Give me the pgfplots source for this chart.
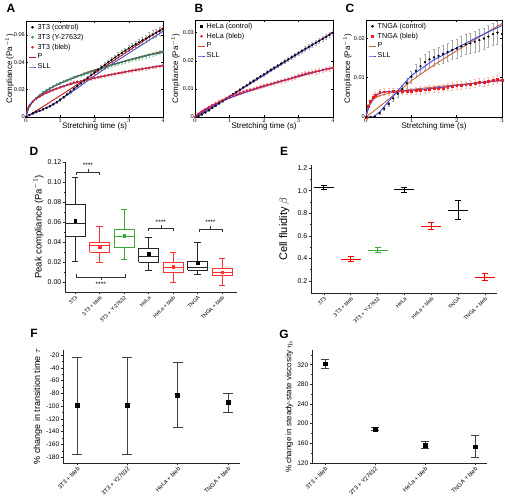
\documentclass[border=0pt]{standalone}
\usepackage{pgfplots}
\pgfplotsset{compat=1.18}
\usepackage{fontspec}
\setmainfont{Liberation Sans}
\definecolor{Pa}{HTML}{C0141E}
\definecolor{Sa}{HTML}{4B47C8}
\definecolor{Pb}{HTML}{F03C28}
\definecolor{Sb}{HTML}{3C3CF0}
\definecolor{Pc}{HTML}{C8643C}
\definecolor{Sc}{HTML}{3C46F0}
\definecolor{gr}{HTML}{2E9B3A}
\definecolor{rd}{HTML}{EE1C1C}
\definecolor{bred}{HTML}{FF3030}
\definecolor{bgreen}{HTML}{38A838}
\newcommand{\fs}[1]{\fontsize{#1}{#1}\selectfont}
\pgfplotsset{
  mat/.style={scale only axis, xmin=0, ymin=0, tick align=inside, major tick length=2pt,
    scaled ticks=false,
    every tick/.style={black, line width=0.4pt}, axis line style={line width=0.5pt},
    ticklabel style={font=\fs{5.6}, inner sep=1pt},
    xlabel={Stretching time (s)}, ylabel={Compliance (Pa$^{-1}$)},
    label style={font=\fs{8}},
    xlabel style={inner sep=0pt, yshift=1pt},
    ylabel style={inner sep=0pt, yshift=-1pt},
    legend style={at={(0.01,0.985)}, anchor=north west, draw=none, fill=none, font=\fs{7.2}, inner sep=0.5pt, row sep=1.7pt, nodes={inner sep=0.8pt}},
    legend cell align=left,
    legend image code/.code={\draw[mark repeat=2,mark phase=2,#1] plot coordinates {(0cm,0cm) (0.14cm,0cm) (0.28cm,0cm)};},
  },
  dat/.style={mark=*, mark size=0.85pt, line width=0.5pt, forget plot},
  fit/.style={line width=0.9pt, forget plot},
  errg/.style={error bars/.cd, y dir=both, y explicit, error bar style={#1, line width=0.3pt}, error mark options={#1, rotate=90, mark size=1pt, line width=0.3pt}},
  org/.style={scale only axis, axis x line*=bottom, axis y line*=left, tick align=outside,
    scaled ticks=false,
    major tick length=2.5pt, minor tick length=1.5pt,
    every tick/.style={black!85, line width=0.5pt}, axis line style={black!85, line width=0.6pt},
    yticklabel style={font=\fs{7}, inner sep=1pt},
    label style={font=\fs{9.5}},
    ylabel style={inner sep=0pt},
    xtick={0,...,6},
    xticklabel style={rotate=45, anchor=north east, font=\fs{5.3}, inner sep=0.5pt},
    clip=false},
  bx/.style={line width=0.6pt, unbounded coords=jump},
}
\begin{document}
\begin{tikzpicture}
\useasboundingbox (0,0) rectangle (505pt,497pt);
% ---------------- A ----------------
\begin{axis}[mat, at={(26pt,380pt)}, anchor=south west, width=137pt, height=96pt,
  xmax=4, ymax=0.07, xtick={0,1,2,3,4}, ytick={0,0.02,0.04,0.06}, yticklabels={0,0.02,0.04,0.06}]
\addlegendimage{only marks, mark=*, mark size=1.1pt, black}\addlegendentry{3T3 (control)}
\addlegendimage{only marks, mark=*, mark size=1.1pt, gr}\addlegendentry{3T3 (Y-27632)}
\addlegendimage{only marks, mark=*, mark size=1.1pt, rd}\addlegendentry{3T3 (bleb)}
\addlegendimage{Pa, line width=0.9pt}\addlegendentry{P}
\addlegendimage{Sa, line width=0.9pt}\addlegendentry{SLL}
\addplot[gr, dat, errg=gr!35] table[y error index=2] {
0 0 0
0.05 0.005 0.0003
0.1 0.0078 0.0004
0.2 0.0110 0.0005
0.3 0.0137 0.0005
0.4 0.0160 0.0006
0.5 0.0180 0.0006
0.6 0.0196 0.0007
0.7 0.0210 0.0007
0.8 0.0223 0.0007
0.9 0.0237 0.0008
1.0 0.0249 0.0008
1.1 0.0259 0.0008
1.2 0.0268 0.0008
1.3 0.0278 0.0009
1.4 0.0289 0.0009
1.5 0.0298 0.0009
1.6 0.0306 0.0009
1.7 0.0314 0.001
1.8 0.0323 0.001
1.9 0.0332 0.001
2.0 0.0340 0.001
2.1 0.0347 0.001
2.2 0.0354 0.001
2.3 0.0362 0.0011
2.4 0.0370 0.0011
2.5 0.0377 0.0011
2.6 0.0384 0.0011
2.7 0.0391 0.0011
2.8 0.0398 0.0012
2.9 0.0405 0.0012
3.0 0.0412 0.0012
3.1 0.0419 0.0012
3.2 0.0425 0.0012
3.3 0.0431 0.0013
3.4 0.0438 0.0013
3.5 0.0444 0.0013
3.6 0.0451 0.0013
3.7 0.0458 0.0013
3.8 0.0464 0.0014
3.9 0.0470 0.0014
4.0 0.0476 0.0014
};
\addplot[rd, dat, errg=rd!30] table[y error index=2] {
0 0 0
0.05 0.0058 0.0003
0.1 0.0084 0.0004
0.2 0.0112 0.0004
0.3 0.0134 0.0005
0.4 0.0150 0.0005
0.5 0.0165 0.0005
0.6 0.0177 0.0006
0.7 0.0188 0.0006
0.8 0.0198 0.0006
0.9 0.0207 0.0006
1.0 0.0216 0.0007
1.1 0.0226 0.0007
1.2 0.0236 0.0007
1.3 0.0244 0.0007
1.4 0.0251 0.0007
1.5 0.0257 0.0008
1.6 0.0262 0.0008
1.7 0.0267 0.0008
1.8 0.0273 0.0008
1.9 0.0279 0.0008
2.0 0.0285 0.0008
2.1 0.0290 0.0008
2.2 0.0295 0.0009
2.3 0.0300 0.0009
2.4 0.0305 0.0009
2.5 0.0310 0.0009
2.6 0.0315 0.0009
2.7 0.0320 0.0009
2.8 0.0324 0.0009
2.9 0.0329 0.001
3.0 0.0334 0.001
3.1 0.0339 0.001
3.2 0.0343 0.001
3.3 0.0347 0.001
3.4 0.0351 0.001
3.5 0.0355 0.001
3.6 0.0359 0.001
3.7 0.0363 0.001
3.8 0.0367 0.001
3.9 0.0370 0.001
4.0 0.0373 0.001
};
\addplot[black, dat, errg=gray!70] table[y error index=2] {
0 0 0
0.1 0.0015 0.0003
0.2 0.0027 0.0004
0.3 0.0037 0.0004
0.4 0.0046 0.0005
0.5 0.0056 0.0005
0.6 0.0067 0.0006
0.7 0.0079 0.0006
0.8 0.0093 0.0007
0.9 0.0109 0.0008
1.0 0.0126 0.0008
1.1 0.0146 0.0009
1.2 0.0166 0.001
1.3 0.0186 0.001
1.4 0.0206 0.0011
1.5 0.0226 0.0011
1.6 0.0246 0.0012
1.7 0.0266 0.0012
1.8 0.0285 0.0013
1.9 0.0305 0.0013
2.0 0.0325 0.0014
2.1 0.0344 0.0014
2.2 0.0363 0.0015
2.3 0.0381 0.0016
2.4 0.0399 0.0016
2.5 0.0417 0.0017
2.6 0.0434 0.0018
2.7 0.0451 0.0019
2.8 0.0468 0.002
2.9 0.0484 0.0021
3.0 0.0500 0.0022
3.1 0.0515 0.0023
3.2 0.0530 0.0024
3.3 0.0545 0.0025
3.4 0.0559 0.0026
3.5 0.0573 0.0027
3.6 0.0587 0.0028
3.7 0.0601 0.0029
3.8 0.0614 0.003
3.9 0.0627 0.003
4.0 0.0640 0.003
};
\addplot[Pa, fit] coordinates {(0,0) (0.1,0.0015) (0.5,0.0076) (1,0.0156) (1.5,0.0237) (2,0.0319) (2.5,0.0401) (3,0.0484) (3.5,0.0566) (4,0.0650)};
\addplot[Pa, fit] coordinates {(0,0) (0.05,0.0058) (0.1,0.0081) (0.2,0.0114) (0.3,0.0138) (0.5,0.0176) (0.75,0.0214) (1,0.0246) (1.5,0.0299) (2,0.0343) (2.5,0.0382) (3,0.0417) (3.5,0.0449) (4,0.0479)};
\addplot[Pa, fit] coordinates {(0,0) (0.05,0.0065) (0.1,0.0086) (0.2,0.0113) (0.3,0.0133) (0.5,0.0163) (0.75,0.0192) (1,0.0215) (1.5,0.0253) (2,0.0284) (2.5,0.0310) (3,0.0334) (3.5,0.0355) (4,0.0375)};
\addplot[Sa, fit] coordinates {(0,0) (0.1,0.0012) (0.25,0.0028) (0.5,0.0055) (0.75,0.0088) (1,0.0125) (1.5,0.0210) (2,0.0300) (2.5,0.0385) (3,0.0465) (3.5,0.0545) (4,0.0625)};
\addplot[Sa, fit] coordinates {(0,0) (0.05,0.0045) (0.1,0.0075) (0.2,0.0112) (0.3,0.0138) (0.5,0.0178) (0.75,0.0215) (1,0.0245) (1.5,0.0295) (2,0.0338) (2.5,0.0378) (3,0.0415) (3.5,0.0447) (4,0.0470)};
\addplot[Sa, fit] coordinates {(0,0) (0.05,0.0055) (0.1,0.0085) (0.2,0.0117) (0.3,0.0138) (0.5,0.0168) (0.75,0.0196) (1,0.0218) (1.5,0.0255) (2,0.0285) (2.5,0.0310) (3,0.0333) (3.5,0.0355) (4,0.0378)};
\end{axis}
% ---------------- B ----------------
\begin{axis}[mat, at={(195pt,380pt)}, anchor=south west, width=138pt, height=97pt,
  xmax=4, ymax=0.0345, xtick={0,1,2,3,4}, ytick={0,0.01,0.02,0.03}, yticklabels={0,0.01,0.02,0.03},
  ylabel shift=3pt]
\addlegendimage{only marks, mark=square*, mark size=0.9pt, black}\addlegendentry{HeLa (control)}
\addlegendimage{only marks, mark=*, mark size=1.1pt, rd}\addlegendentry{HeLa (bleb)}
\addlegendimage{Pb, line width=0.9pt}\addlegendentry{P}
\addlegendimage{Sb, line width=0.9pt}\addlegendentry{SLL}
\addplot[black, dat, errg=gray!60] table[y error index=2] {
0 0 0
0.1 0.0003 0.0001
0.2 0.0009 0.0001
0.3 0.0016 0.0002
0.4 0.0024 0.0002
0.5 0.0032 0.0002
0.6 0.0040 0.0003
0.7 0.0048 0.0003
0.8 0.0057 0.0003
0.9 0.0065 0.0003
1.0 0.0073 0.0004
1.1 0.0081 0.0004
1.2 0.0089 0.0004
1.3 0.0097 0.0004
1.4 0.0105 0.0004
1.5 0.0113 0.0005
1.6 0.0121 0.0005
1.7 0.0129 0.0005
1.8 0.0137 0.0005
1.9 0.0145 0.0005
2.0 0.0152 0.0005
2.1 0.0160 0.0006
2.2 0.0168 0.0006
2.3 0.0175 0.0006
2.4 0.0183 0.0006
2.5 0.0190 0.0006
2.6 0.0198 0.0006
2.7 0.0205 0.0007
2.8 0.0213 0.0007
2.9 0.0220 0.0007
3.0 0.0228 0.0007
3.1 0.0235 0.0007
3.2 0.0243 0.0008
3.3 0.0250 0.0008
3.4 0.0257 0.0008
3.5 0.0264 0.0008
3.6 0.0271 0.0008
3.7 0.0278 0.0009
3.8 0.0285 0.0009
3.9 0.0292 0.0009
4.0 0.0299 0.0009
};
\addplot[rd, dat, errg=rd!30] table[y error index=2] {
0 0 0
0.1 0.0010 0.0002
0.2 0.0019 0.0002
0.3 0.0027 0.0003
0.4 0.0035 0.0003
0.5 0.0042 0.0003
0.6 0.0049 0.0003
0.7 0.0055 0.0004
0.8 0.0061 0.0004
0.9 0.0067 0.0004
1.0 0.0072 0.0004
1.1 0.0077 0.0004
1.2 0.0081 0.0005
1.3 0.0085 0.0005
1.4 0.0090 0.0005
1.5 0.0094 0.0005
1.6 0.0097 0.0005
1.7 0.0100 0.0005
1.8 0.0104 0.0005
1.9 0.0108 0.0006
2.0 0.0112 0.0006
2.1 0.0115 0.0006
2.2 0.0118 0.0006
2.3 0.0121 0.0006
2.4 0.0125 0.0006
2.5 0.0128 0.0007
2.6 0.0131 0.0007
2.7 0.0134 0.0007
2.8 0.0138 0.0007
2.9 0.0142 0.0007
3.0 0.0147 0.0007
3.1 0.0151 0.0007
3.2 0.0155 0.0007
3.3 0.0157 0.0007
3.4 0.0159 0.0008
3.5 0.0162 0.0008
3.6 0.0164 0.0008
3.7 0.0167 0.0008
3.8 0.0170 0.0008
3.9 0.0172 0.0008
4.0 0.0174 0.0008
};
\addplot[Pb, fit] coordinates {(0,0) (1,0.0074) (2,0.0150) (3,0.0226) (4,0.0302)};
\addplot[Pb, fit] coordinates {(0,0) (0.1,0.0014) (0.2,0.0022) (0.3,0.0029) (0.5,0.0042) (1,0.0067) (1.5,0.0089) (2,0.0108) (2.5,0.0126) (3,0.0143) (3.5,0.0160) (4,0.0175)};
\addplot[Sb, fit] coordinates {(0,0) (0.5,0.0033) (1,0.0072) (2,0.0149) (3,0.0226) (4,0.0300)};
\addplot[Sb, fit] coordinates {(0,0) (0.25,0.0022) (0.5,0.0040) (1,0.0068) (1.5,0.0090) (2,0.0110) (2.5,0.0128) (3,0.0145) (3.5,0.0161) (4,0.0176)};
\end{axis}
% ---------------- C ----------------
\begin{axis}[mat, at={(366pt,380pt)}, anchor=south west, width=136pt, height=97pt,
  xmax=3, ymax=0.0246, xtick={0,1,2,3}, ytick={0,0.01,0.02}, yticklabels={0,0.01,0.02},
  ylabel shift=2pt]
\addlegendimage{only marks, mark=*, mark size=1.1pt, black}\addlegendentry{TNGA (control)}
\addlegendimage{only marks, mark=square*, mark size=1.1pt, rd}\addlegendentry{TNGA (bleb)}
\addlegendimage{Pc, line width=0.9pt}\addlegendentry{P}
\addlegendimage{Sc, line width=0.9pt}\addlegendentry{SLL}
\addplot[rd, mark=square*, mark size=0.9pt, line width=0.4pt, forget plot, errg=rd!30] table[y error index=2] {
0 0 0
0.05 0.0028 0.0004
0.1 0.0040 0.0006
0.15 0.0050 0.0007
0.2 0.0056 0.0008
0.3 0.0062 0.0008
0.4 0.0064 0.0008
0.5 0.0064 0.0008
0.6 0.0065 0.0008
0.7 0.0065 0.0008
0.8 0.0065 0.0008
0.9 0.0066 0.0008
1.0 0.0066 0.0008
1.1 0.0067 0.0008
1.2 0.0068 0.0009
1.3 0.0069 0.0009
1.4 0.0071 0.0009
1.5 0.0073 0.0009
1.6 0.0072 0.0009
1.7 0.0074 0.0009
1.8 0.0076 0.0009
1.9 0.0078 0.001
2.0 0.0080 0.001
2.1 0.0081 0.001
2.2 0.0082 0.001
2.3 0.0084 0.001
2.4 0.0086 0.001
2.5 0.0088 0.001
2.6 0.0089 0.001
2.7 0.0091 0.001
2.8 0.0093 0.001
2.9 0.0095 0.001
3.0 0.0094 0.001
};
\addplot[black, only marks, mark=*, mark size=0.95pt, forget plot, errg=gray!70] table[y error index=2] {
0 0 0
0.1 0 0
0.2 0.0001 0.0001
0.3 0.0010 0.0002
0.4 0.0021 0.0003
0.5 0.0033 0.0005
0.6 0.0047 0.0006
0.7 0.0059 0.0008
0.8 0.0071 0.001
0.9 0.0086 0.0012
1.0 0.0102 0.0015
1.1 0.0117 0.0017
1.2 0.0129 0.0019
1.3 0.0139 0.002
1.4 0.0146 0.0021
1.5 0.0151 0.0022
1.6 0.0155 0.0022
1.7 0.0160 0.0023
1.8 0.0165 0.0023
1.9 0.0170 0.0024
2.0 0.0174 0.0024
2.1 0.0179 0.0025
2.2 0.0184 0.0025
2.3 0.0187 0.0026
2.4 0.0191 0.0026
2.5 0.0195 0.0027
2.6 0.0199 0.0027
2.7 0.0204 0.0028
2.8 0.0210 0.0028
2.9 0.0214 0.0029
3.0 0.0210 0.0029
};
\addplot[Pc, fit] coordinates {(0,0) (0.25,0.0022) (0.5,0.0045) (0.75,0.0068) (1,0.0092) (1.5,0.0132) (2,0.0168) (2.5,0.0203) (3,0.0237)};
\addplot[Pc, fit] coordinates {(0,0) (0.05,0.0028) (0.1,0.0038) (0.2,0.0048) (0.3,0.0054) (0.5,0.0060) (0.75,0.0066) (1,0.0070) (1.5,0.0076) (2,0.0082) (2.5,0.0087) (3,0.0092)};
\addplot[Sc, fit] coordinates {(0,0) (0.15,0) (0.3,0.0012) (0.5,0.0040) (0.75,0.0073) (1,0.0105) (1.5,0.0145) (2,0.0175) (2.5,0.0205) (3,0.0232)};
\addplot[Sc, fit] coordinates {(0,0) (0.05,0.0020) (0.1,0.0035) (0.2,0.0052) (0.3,0.0060) (0.5,0.0065) (0.75,0.0066) (1,0.0068) (1.5,0.0073) (2,0.0080) (2.5,0.0087) (3,0.0093)};
\end{axis}
% ---------------- D ----------------
\begin{axis}[org, at={(65pt,205pt)}, anchor=south west, width=172pt, height=130pt,
  xmin=-0.41, xmax=6.61, ymin=-0.01, ymax=0.12,
  ytick={0,0.02,0.04,0.06,0.08,0.1,0.12}, yticklabels={0.00,0.02,0.04,0.06,0.08,0.10,0.12},
  minor ytick={0.01,0.03,0.05,0.07,0.09,0.11},
  xticklabels={3T3, 3T3 + bleb, 3T3 + Y-27632, HeLa, HeLa + bleb, TNGA, TNGA + bleb},
  ylabel={Peak compliance (Pa$^{-1}$)}, ylabel shift=3pt]
\addplot[black!85, bx] coordinates {(-0.4,0.046) (0.4,0.046) (0.4,0.078) (-0.4,0.078) (-0.4,0.046) (0,nan) (-0.4,0.059) (0.4,0.059) (0,nan) (0,0.078) (0,0.105) (0,nan) (-0.125,0.105) (0.125,0.105) (0,nan) (0,0.046) (0,0.021) (0,nan) (-0.125,0.021) (0.125,0.021)};
\addplot[bred, bx] coordinates {(0.6,0.030) (1.4,0.030) (1.4,0.040) (0.6,0.040) (0.6,0.030) (1,nan) (0.6,0.037) (1.4,0.037) (1,nan) (1,0.040) (1,0.056) (1,nan) (0.875,0.056) (1.125,0.056) (1,nan) (1,0.030) (1,0.020) (1,nan) (0.875,0.020) (1.125,0.020)};
\addplot[bgreen, bx] coordinates {(1.6,0.035) (2.4,0.035) (2.4,0.053) (1.6,0.053) (1.6,0.035) (2,nan) (1.6,0.046) (2.4,0.046) (2,nan) (2,0.053) (2,0.073) (2,nan) (1.875,0.073) (2.125,0.073) (2,nan) (2,0.035) (2,0.023) (2,nan) (1.875,0.023) (2.125,0.023)};
\addplot[black!85, bx] coordinates {(2.6,0.020) (3.4,0.020) (3.4,0.034) (2.6,0.034) (2.6,0.020) (3,nan) (2.6,0.026) (3.4,0.026) (3,nan) (3,0.034) (3,0.045) (3,nan) (2.875,0.045) (3.125,0.045) (3,nan) (3,0.020) (3,0.012) (3,nan) (2.875,0.012) (3.125,0.012)};
\addplot[bred, bx] coordinates {(3.6,0.0097) (4.4,0.0097) (4.4,0.0193) (3.6,0.0193) (3.6,0.0097) (4,nan) (3.6,0.0147) (4.4,0.0147) (4,nan) (4,0.0193) (4,0.030) (4,nan) (3.875,0.030) (4.125,0.030) (4,nan) (4,0.0097) (4,0.000) (4,nan) (3.875,0.000) (4.125,0.000)};
\addplot[black!85, bx] coordinates {(4.6,0.012) (5.4,0.012) (5.4,0.021) (4.6,0.021) (4.6,0.012) (5,nan) (4.6,0.0143) (5.4,0.0143) (5,nan) (5,0.021) (5,0.040) (5,nan) (4.875,0.040) (5.125,0.040) (5,nan) (5,0.012) (5,0.0077) (5,nan) (4.875,0.0077) (5.125,0.0077)};
\addplot[bred, bx] coordinates {(5.6,0.0063) (6.4,0.0063) (6.4,0.0137) (5.6,0.0137) (5.6,0.0063) (6,nan) (5.6,0.0093) (6.4,0.0093) (6,nan) (6,0.0137) (6,0.024) (6,nan) (5.875,0.024) (6.125,0.024) (6,nan) (6,0.0063) (6,-0.003) (6,nan) (5.875,-0.003) (6.125,-0.003)};
\addplot[only marks, mark=square*, mark size=1.3pt, black] coordinates {(0,0.061) (3,0.028) (5,0.0193)};
\addplot[only marks, mark=square*, mark size=1.3pt, bred] coordinates {(1,0.0355) (4,0.015) (6,0.0097)};
\addplot[only marks, mark=square*, mark size=1.3pt, bgreen] coordinates {(2,0.046)};
\draw[black!80, line width=0.5pt] (axis cs:0.05,0.107) -- (axis cs:0.05,0.110) -- (axis cs:1,0.110) -- (axis cs:1,0.107);
\draw[black!80, line width=0.5pt] (axis cs:0.525,0.110) -- (axis cs:0.525,0.113);
\node[font=\fs{6.5}, inner sep=0pt] at (axis cs:0.525,0.1165) {****};
\draw[black!80, line width=0.5pt] (axis cs:3,0.051) -- (axis cs:3,0.0537) -- (axis cs:4,0.0537) -- (axis cs:4,0.051);
\draw[black!80, line width=0.5pt] (axis cs:3.5,0.0537) -- (axis cs:3.5,0.0567);
\node[font=\fs{6.5}, inner sep=0pt] at (axis cs:3.5,0.060) {****};
\draw[black!80, line width=0.5pt] (axis cs:5.05,0.050) -- (axis cs:5.05,0.053) -- (axis cs:6,0.053) -- (axis cs:6,0.050);
\draw[black!80, line width=0.5pt] (axis cs:5.525,0.053) -- (axis cs:5.525,0.056);
\node[font=\fs{6.5}, inner sep=0pt] at (axis cs:5.525,0.0593) {****};
\draw[black!80, line width=0.5pt] (axis cs:0.05,0.0077) -- (axis cs:0.05,0.0047) -- (axis cs:2.05,0.0047) -- (axis cs:2.05,0.0077);
\draw[black!80, line width=0.5pt] (axis cs:1.05,0.0047) -- (axis cs:1.05,0.0017);
\node[font=\fs{6.5}, inner sep=0pt] at (axis cs:1.05,-0.0025) {****};
\end{axis}
% ---------------- E ----------------
\begin{axis}[org, at={(311pt,204pt)}, anchor=south west, width=186pt, height=128pt,
  xmin=-0.48, xmax=6.45, ymin=0.094, ymax=1.227,
  ytick={0.2,0.4,0.6,0.8,1.0,1.2}, yticklabels={0.2,0.4,0.6,0.8,1.0,1.2},
  minor ytick={0.3,0.5,0.7,0.9,1.1},
  xticklabels={3T3, 3T3 + bleb, 3T3 + Y-27632, HeLa, HeLa + bleb, TNGA, TNGA + bleb},
  ylabel={Cell fluidity $\beta$}, ylabel style={font=\fs{11}}, ylabel shift=7pt]
\addplot[black, only marks, mark=-, mark size=10pt, mark options={line width=1.1pt},
  error bars/.cd, y dir=both, y explicit, error bar style={line width=1.1pt}, error mark options={rotate=90, mark size=3pt, line width=1.1pt}]
  coordinates {(0,1.027) +- (0,0.02) (3,1.008) +- (0,0.022) (5,0.828) +- (0,0.081)};
\addplot[red, only marks, mark=-, mark size=10pt, mark options={line width=1.1pt},
  error bars/.cd, y dir=both, y explicit, error bar style={line width=1.1pt}, error mark options={rotate=90, mark size=3pt, line width=1.1pt}]
  coordinates {(1,0.394) +- (0,0.02) (4,0.685) +- (0,0.03) (6,0.233) +- (0,0.03)};
\addplot[bgreen, only marks, mark=-, mark size=10pt, mark options={line width=1.1pt},
  error bars/.cd, y dir=both, y explicit, error bar style={line width=1.1pt}, error mark options={rotate=90, mark size=3pt, line width=1.1pt}]
  coordinates {(2,0.473) +- (0,0.021)};
\end{axis}
% ---------------- F ----------------
\begin{axis}[org, at={(63pt,34pt)}, anchor=south west, width=177pt, height=113pt,
  xmin=-0.28, xmax=3.24, ymin=-189, ymax=-12,
  ytick={-20,-40,-60,-80,-100,-120,-140,-160,-180}, yticklabels={-20,-40,-60,-80,-100,-120,-140,-160,-180},
  minor ytick={-30,-50,-70,-90,-110,-130,-150,-170},
  xtick={0,1,2,3}, xticklabels={3T3 + bleb, 3T3 + Y27632, HeLa + bleb, TNGA + bleb},
  xticklabel style={font=\fs{5.9}}, yticklabel style={font=\fs{6.6}},
  ylabel={\% change in transition time $\tau$}, ylabel style={font=\fs{9}}, ylabel shift=3pt]
\addplot[black, only marks, mark=square*, mark size=2pt,
  error bars/.cd, y dir=both, y explicit, error bar style={line width=0.6pt, black!75}, error mark options={rotate=90, mark size=5pt, line width=0.6pt, black!75}]
  coordinates {(0,-99.2) += (0,76.1) -= (0,76.6) (1,-99.2) += (0,76.1) -= (0,76.6) (2,-82.4) += (0,51.4) -= (0,51.4) (3,-94.5) += (0,14.2) -= (0,14.7)};
\end{axis}
% ---------------- G ----------------
\begin{axis}[org, at={(312pt,34pt)}, anchor=south west, width=175pt, height=113pt,
  xmin=-0.26, xmax=3.24, ymin=120, ymax=350,
  ytick={120,160,200,240,280,320}, yticklabels={120,160,200,240,280,320},
  minor ytick={140,180,220,260,300,340},
  xtick={0,1,2,3}, xticklabels={3T3 + bleb, 3T3 + Y27632, HeLa + bleb, TNGA + bleb},
  xticklabel style={font=\fs{5.9}}, yticklabel style={font=\fs{6.6}},
  ylabel={\% change in steady-state viscosity $\eta_s$}, ylabel style={font=\fs{8}}, ylabel shift=3pt]
\addplot[black, only marks, mark=square*, mark size=1.7pt,
  error bars/.cd, y dir=both, y explicit, error bar style={line width=0.6pt, black!75}, error mark options={rotate=90, mark size=4pt, line width=0.6pt, black!75}]
  coordinates {(0,322) += (0,8.8) -= (0,8.7) (1,189) += (0,3) -= (0,3) (2,156.4) += (0,7.4) -= (0,6.8) (3,153.7) += (0,22.2) -= (0,21.7)};
\end{axis}
% panel letters
\node[font=\bfseries\fs{12}] at (11pt,489pt) {A};
\node[font=\bfseries\fs{12}] at (199pt,489pt) {B};
\node[font=\bfseries\fs{12}] at (350pt,489pt) {C};
\node[font=\bfseries\fs{12}] at (34pt,346pt) {D};
\node[font=\bfseries\fs{12}] at (284pt,346pt) {E};
\node[font=\bfseries\fs{12}] at (34pt,164pt) {F};
\node[font=\bfseries\fs{12}] at (284pt,163pt) {G};
\end{tikzpicture}
\end{document}
